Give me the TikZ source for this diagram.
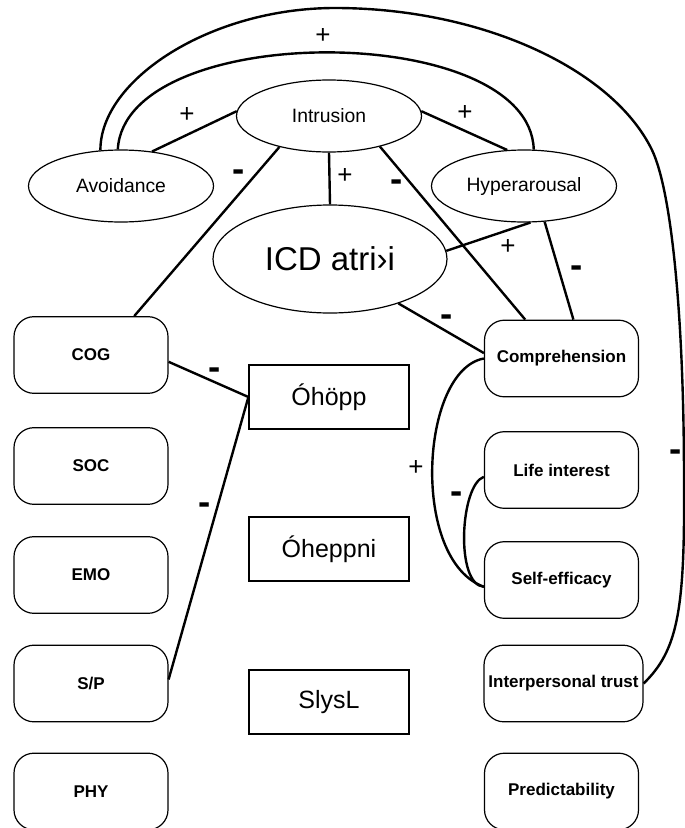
\documentclass[tikz,border=0pt]{standalone}
\usepackage{fontspec}
\setmainfont{Liberation Sans}
\usetikzlibrary{shapes.geometric}
\begin{document}
\begin{tikzpicture}[x=0.75pt,y=-0.75pt,
  ell/.style={ellipse, draw, line width=0.9pt, inner sep=0pt, minimum width=138.75pt, minimum height=54pt, font=\fontsize{14.5}{17}\selectfont},
  rbox/.style={draw, rounded corners=15pt, line width=0.9pt, minimum width=115.5pt, minimum height=57.5pt, inner sep=0pt, font=\bfseries\fontsize{12.75}{15}\selectfont},
  sbox/.style={draw, line width=0.9pt, minimum width=120pt, minimum height=48pt, inner sep=0pt, font=\fontsize{18.75}{22}\selectfont},
  conn/.style={line width=1.8pt},
  plus/.style={font=\fontsize{19.5}{20}\selectfont, inner sep=0pt, yshift=-1.1pt},
  minus/.style={font=\bfseries\fontsize{27.5}{28}\selectfont, inner sep=0pt, yshift=-2.8pt},
]
\useasboundingbox (0,0) rectangle (685,828);

% ellipses
\node[ell] (intr) at (329,116) {Intrusion};
\node[ell] (avoid) at (121,186) {Avoidance};
\node[ell] (hyper) at (524,186) {Hyperarousal};
\node[ell, minimum width=175.5pt, minimum height=81pt, font=\fontsize{24.75}{28}\selectfont] (icd) at (330,259) {ICD atri›i};

% middle boxes
\node[sbox] (ohopp) at (329,397) {Óhöpp};
\node[sbox] (oheppni) at (329,549) {Óheppni};
\node[sbox] (slysl) at (329,702) {SlysL};

% left boxes
\node[rbox] (cog) at (91,355) {COG};
\node[rbox] (soc) at (91,466) {SOC};
\node[rbox] (emo) at (91,575) {EMO};
\node[rbox] (sp) at (91,683.5) {S/P};
\node[rbox] (phy) at (91,791.5) {PHY};

% right boxes
\node[rbox] (comp) at (561.5,358.5) {Comprehension};
\node[rbox] (life) at (561.5,470) {Life interest};
\node[rbox] (self) at (561.5,580) {Self-efficacy};
\node[rbox, minimum width=119.25pt] (interp) at (563.5,683.5) {Interpersonal trust};
\node[rbox] (pred) at (561.5,791.5) {Predictability};

% connectors
\draw[conn] (avoid.48) -- (intr.177);
\draw[conn] (intr.3) -- (hyper.115);
\draw[conn] (avoid.95) .. controls (125,20) and (530,20) .. (hyper.75);
\draw[conn] (avoid.120) .. controls (100,80) and (210,8) .. (335,8)
   .. controls (480,8) and (612,68) .. (652,150)
   .. controls (672,192) and (684,320) .. (684,480)
   .. controls (685,610) and (678,650) .. (interp.east);
\draw[conn] (intr.south) -- (icd.north);
\draw[conn] (intr.212) -- (cog.42);
\draw[conn] (intr.329) -- (comp.133);
\draw[conn] (hyper.300) -- (comp.73);
\draw[conn] (hyper.280) -- (icd.4);
\draw[conn] (icd.327) -- (comp.176);
\draw[conn] (cog.355) -- (ohopp.west);
\draw[conn] (sp.3) -- (ohopp.west);
\draw[conn] (comp.west) .. controls (420,370) and (410,560) .. (self.185);
\draw[conn] (life.185) .. controls (460,485) and (455,585) .. (self.185);

% labels
\node[plus] (p1) at (323,35) {+};
\node[plus] (p2) at (187,114) {+};
\node[plus] (p3) at (465,112) {+};
\node[minus] (m1) at (239,172) {-};
\node[plus] (p4) at (345,175) {+};
\node[minus] (m2) at (397,182) {-};
\node[plus] (p5) at (508,246) {+};
\node[minus] (m3) at (577,268) {-};
\node[minus] (m4) at (447,317) {-};
\node[minus] (m5) at (215,370) {-};
\node[minus] (m6) at (205,505) {-};
\node[plus] (p6) at (416,467) {+};
\node[minus] (m7) at (457,494) {-};
\node[minus] (m8) at (676,452) {-};
\end{tikzpicture}
\end{document}
